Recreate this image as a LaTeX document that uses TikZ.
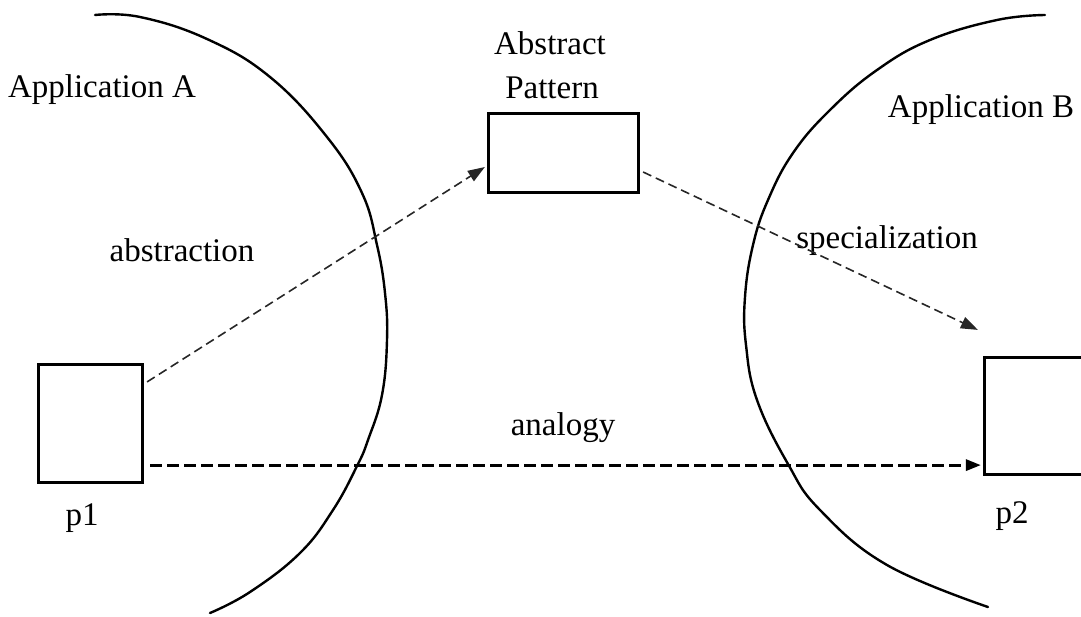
\documentclass[tikz,border=0pt]{standalone}
\usepackage{fontspec}
\setmainfont{Liberation Serif}
\usetikzlibrary{arrows.meta,calc}

\tikzset{
  lbl/.style={anchor=base, inner sep=0pt, font=\fontsize{33}{40}\selectfont},
  pbox/.style={draw=black, line width=3.2pt, inner sep=0pt, fill=white},
  appline/.style={draw=black, line width=2.4pt, line join=round, line cap=round},
  thinflow/.style={draw=black!85, line width=1.6pt, dash pattern=on 9pt off 5pt,
    -{Triangle[length=17pt,width=12pt]}},
  thickflow/.style={draw=black, line width=3pt, dash pattern=on 12pt off 5pt,
    -{Triangle[length=15pt,width=11pt]}}
}

\begin{document}
\begin{tikzpicture}[x=1pt,y=-1pt]
  \useasboundingbox (0,0) rectangle (1081,616);
  \clip (0,0) rectangle (1081,616);

  % the two application domains
  \draw[appline] plot[smooth, tension=0.7] coordinates {
    (95,15) (140,17) (207,39) (270,77) (327,137) (362,193) (377,245)
    (385,293) (387,340) (382,395) (368,440) (357,466) (333,510) (300,553)
    (250,592) (210,613)};
  \draw[appline] plot[smooth, tension=0.7] coordinates {
    (1045,15) (997,20) (930,40) (877,70) (830,110) (793,153) (768,200)
    (753,245) (745,297) (746,345) (757,400) (788,464) (820,510) (887,565) (988,607)};

  % pattern instances and the abstract pattern
  \node[pbox, minimum width=104pt, minimum height=118pt] (p1) at (90.5,423.5) {};
  \node[pbox, minimum width=150pt, minimum height=79pt] (ap) at (563.5,153) {};
  \node[pbox, minimum width=111pt, minimum height=117pt] (p2) at (1040,416) {};

  % labels
  \node[lbl] (appA) at (102,97) {Application A};
  \node[lbl] (appB) at (981,117) {Application B};
  \node[lbl] (apl1) at (550,54) {Abstract};
  \node[lbl] (apl2) at (552,98) {Pattern};
  \node[lbl] (abs) at (182,261) {abstraction};
  \node[lbl] (spe) at (887,248) {specialization};
  \node[lbl] (ana) at (563,435) {analogy};
  \node[lbl] (p1l) at (82,525) {p1};
  \node[lbl] (p2l) at (1012,523) {p2};

  % connectors
  \coordinate (absS) at ([xshift=3pt,yshift=-19pt]p1.north east);
  \coordinate (absE) at ([xshift=-2pt,yshift=-14pt]ap.west);
  \draw[thinflow] (absS) -- (absE);

  \coordinate (speS) at ([xshift=3pt,yshift=-19pt]ap.east);
  \coordinate (speE) at ([xshift=-5pt,yshift=26pt]p2.north west);
  \draw[thinflow] (speS) -- (speE);

  \coordinate (anaS) at ([xshift=6pt,yshift=19pt]p1.south east);
  \coordinate (anaE) at ([xshift=-2pt]anaS -| p2.west);
  \draw[thickflow] (anaS) -- (anaE);
\end{tikzpicture}
\end{document}
